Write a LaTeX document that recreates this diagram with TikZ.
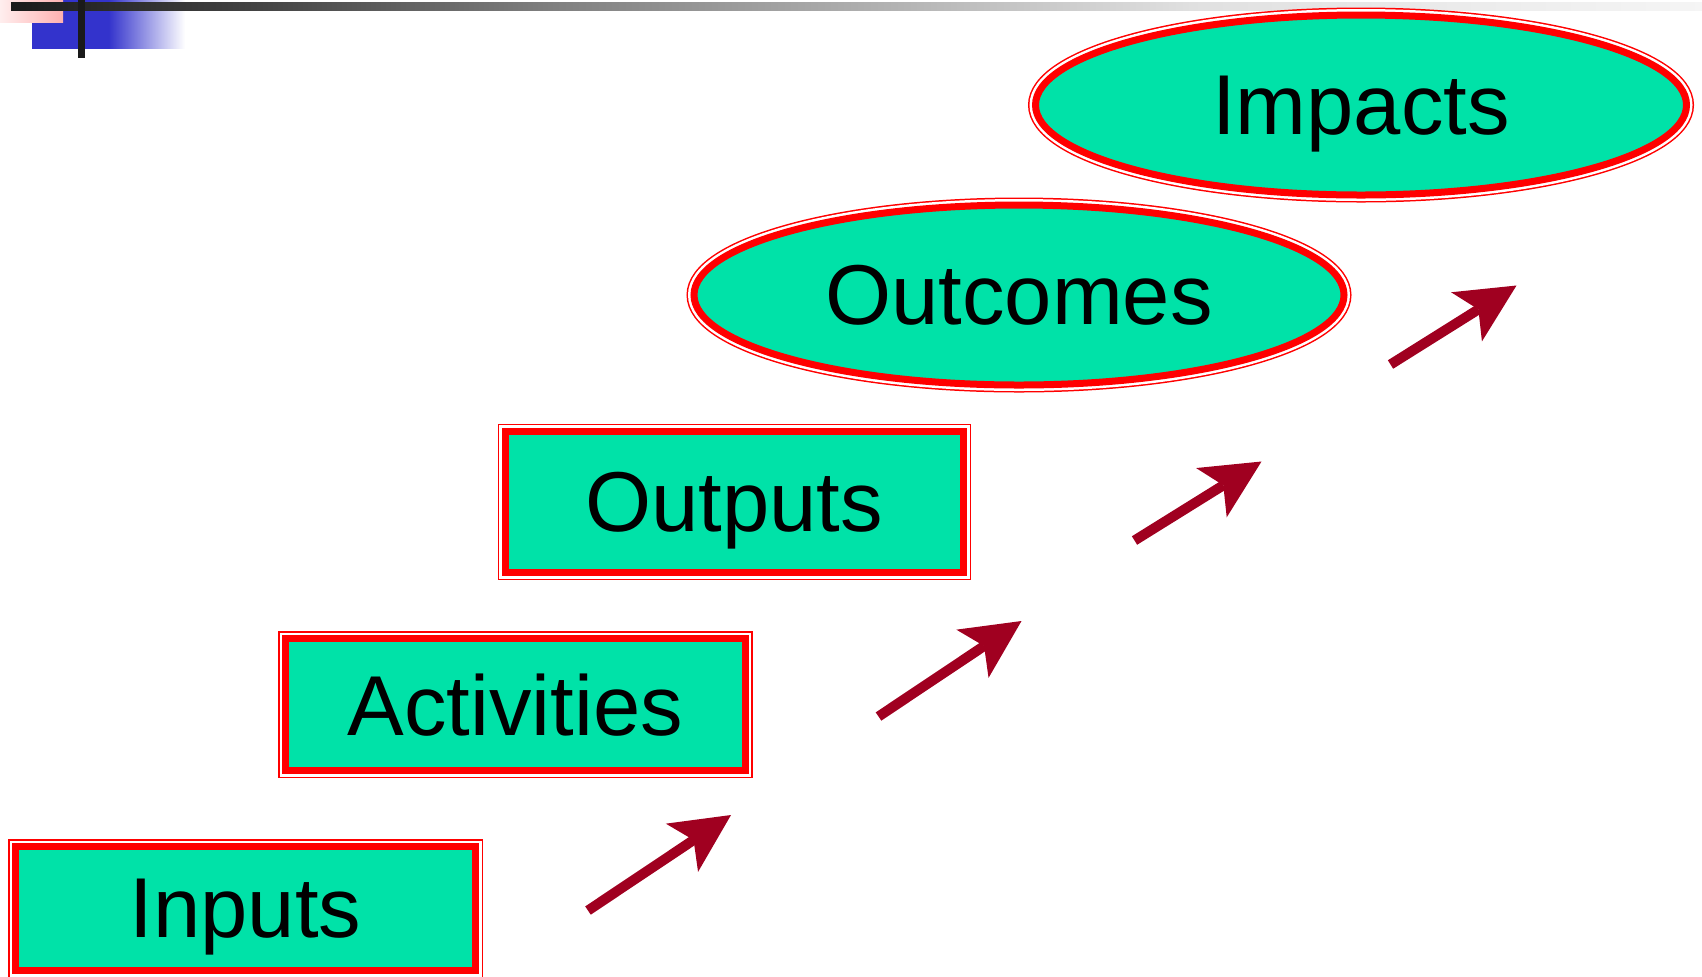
\documentclass[tikz,border=0pt]{standalone}
\usepackage{fontspec}
\setmainfont{Liberation Sans}
\usetikzlibrary{shapes.geometric,arrows.meta}

\definecolor{stagefill}{RGB}{0,226,168}
\definecolor{stagered}{RGB}{255,0,0}
\definecolor{arrowred}{RGB}{160,0,32}
\definecolor{bandblue}{RGB}{51,51,204}
\definecolor{barblack}{RGB}{26,26,26}
\definecolor{pinklight}{RGB}{255,238,238}
\definecolor{pinkdark}{RGB}{255,176,176}

\pgfdeclarehorizontalshading{barfade}{100bp}{color(0bp)=(barblack); color(25bp)=(barblack); color(32.5bp)=(black!73); color(41bp)=(black!50); color(60bp)=(black!12); color(75bp)=(black!4); color(100bp)=(black!4)}
\pgfdeclarehorizontalshading{bluefade}{100bp}{color(0bp)=(bandblue); color(50bp)=(bandblue); color(75bp)=(white); color(100bp)=(white)}

\tikzset{
  stage/.style={fill=stagefill, draw=stagered, line width=3.5pt, inner sep=0pt,
    preaction={draw=stagered, line width=7.5pt},
    preaction={draw=white, line width=6pt},
    text depth=0pt, font=\fontsize{42.5}{50}\selectfont},
  stagebox/.style={stage, rectangle},
  stageoval/.style={stage, ellipse},
  flowarrow/.style={draw=arrowred, line width=5pt,
    -{Stealth[length=29.5pt, width=29pt, inset=7pt, line width=0pt]}}
}

\begin{document}
\begin{tikzpicture}[x=0.5pt,y=-0.5pt]
\useasboundingbox (0,0) rectangle (1702,976);

%Slide corner decoration
\shade[shading=bluefade] (32,0) rectangle (185,48);
\shade[left color=pinklight, right color=pinkdark] (0,0) rectangle (63,22);
\shade[shading=barfade] (11,2) rectangle (1702,10);
\fill[barblack] (78,0) rectangle (85,58);

% Stage nodes
\node[stagebox, minimum width=230pt, minimum height=62pt] (inputs) at (245.5,908.5) {Inputs};
\node[stagebox, minimum width=229.75pt, minimum height=66pt] (activities) at (515.25,704.5) {Activities};
\node[stagebox, minimum width=229.25pt, minimum height=70.75pt] (outputs) at (734.25,501.75) {Outputs};
\node[stageoval, minimum width=325pt, minimum height=90pt] (outcomes) at (1019,295) {Outcomes};
\node[stageoval, minimum width=325.5pt, minimum height=90pt] (impacts) at (1361,105) {Impacts};

% Arrow ends
\coordinate (tail1) at (588,910.5);
\coordinate (tip1) at (731,815);
\coordinate (tail2) at (878.5,716.5);
\coordinate (tip2) at (1021.5,621);
\coordinate (tail3) at (1134.5,540.5);
\coordinate (tip3) at (1261.5,461.5);
\coordinate (tail4) at (1390.5,364.5);
\coordinate (tip4) at (1516.5,285.5);

% Arrows
\draw[flowarrow] (tail1) -- (tip1);
\draw[flowarrow] (tail2) -- (tip2);
\draw[flowarrow] (tail3) -- (tip3);
\draw[flowarrow] (tail4) -- (tip4);
\end{tikzpicture}
\end{document}
